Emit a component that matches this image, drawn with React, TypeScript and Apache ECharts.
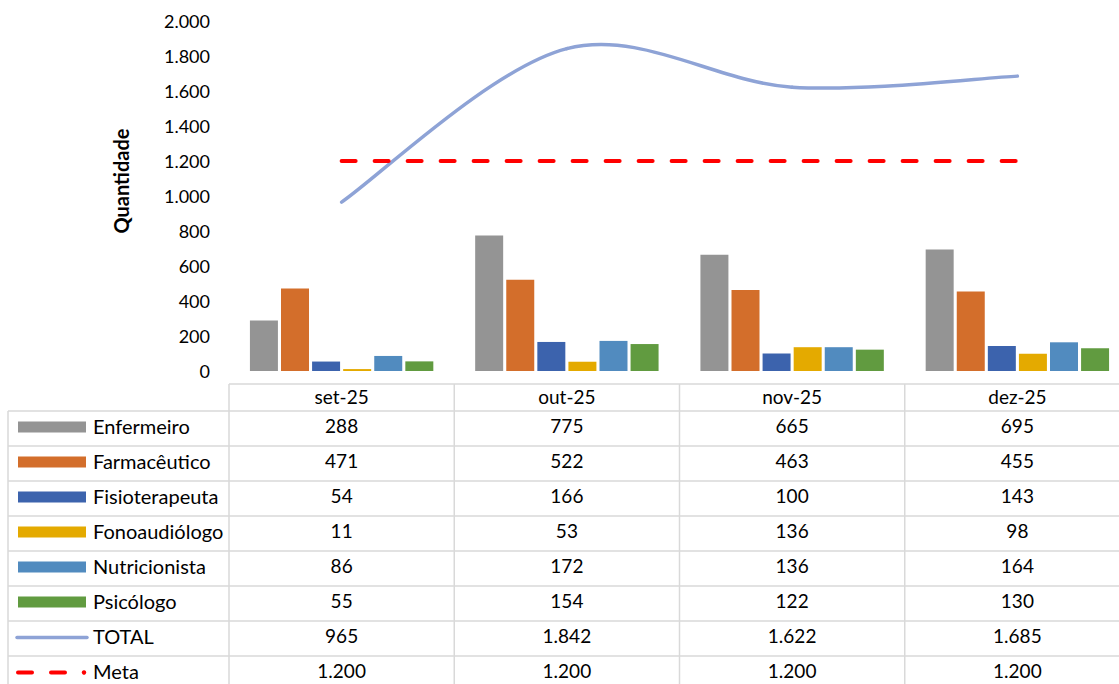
import React, { useEffect, useRef } from "react";
import * as echarts from "echarts";

const categories = ["set-25", "out-25", "nov-25", "dez-25"];
const enfermeiro = [288, 775, 665, 695];
const farmaceutico = [471, 522, 463, 455];
const fisioterapeuta = [54, 166, 100, 143];
const fonoaudiologo = [11, 53, 136, 98];
const nutricionista = [86, 172, 136, 164];
const psicologo = [55, 154, 122, 130];
const total = [965, 1842, 1622, 1685];
const meta = [1200, 1200, 1200, 1200];
const yTicks = { min: 0, max: 2000, interval: 200 };
const yAxisTitle = "Quantidade";

const barSeries = [
  { name: "Enfermeiro", data: enfermeiro, color: "#949494" },
  { name: "Farmacêutico", data: farmaceutico, color: "#D36E2B" },
  { name: "Fisioterapeuta", data: fisioterapeuta, color: "#3C63AD" },
  { name: "Fonoaudiólogo", data: fonoaudiologo, color: "#E4AA00" },
  { name: "Nutricionista", data: nutricionista, color: "#518BBF" },
  { name: "Psicólogo", data: psicologo, color: "#619B40" },
];
const totalColor = "#8EA3D6";
const metaColor = "#FF0000";

const fmt = (v: number) => String(v).replace(/\B(?=(\d{3})+(?!\d))/g, ".");

const FONT = "Lato, 'Noto Sans', sans-serif";

export default function App() {
  const ref = useRef<HTMLDivElement>(null);
  useEffect(() => {
    if (!ref.current) return;
    const chart = echarts.init(ref.current, undefined, { renderer: "svg" });

    const W = 1130;
    const H = 684;
    const GL = 229;
    const GW = W - GL;
    const band = GW / categories.length;
    const headerTop = 384;
    const rowTop = 411;
    const rowH = 35;
    const lineColor = "#D9D9D9";
    const textDy = -3;

    const rows = [
      ...barSeries.map((s) => ({ name: s.name, data: s.data, kind: "bar", color: s.color })),
      { name: "TOTAL", data: total, kind: "line", color: totalColor },
      { name: "Meta", data: meta, kind: "dash", color: metaColor },
    ];

    const graphic: any[] = [];
    graphic.push({
      type: "text",
      x: 121,
      y: 181,
      rotation: Math.PI / 2,
      style: {
        text: yAxisTitle,
        fill: "#000",
        font: `bold 20px ${FONT}`,
        align: "center",
        verticalAlign: "middle",
      },
    });
    graphic.push({
      type: "line",
      shape: { x1: GL, y1: headerTop, x2: GL + GW, y2: headerTop },
      style: { stroke: lineColor, lineWidth: 1.5 },
    });
    for (let i = 0; i <= rows.length; i++) {
      const y = rowTop + i * rowH;
      graphic.push({
        type: "line",
        shape: { x1: 8, y1: y, x2: GL + GW, y2: y },
        style: { stroke: lineColor, lineWidth: 1.5 },
      });
    }
    graphic.push({
      type: "line",
      shape: { x1: 8, y1: rowTop, x2: 8, y2: H + 10 },
      style: { stroke: lineColor, lineWidth: 1.5 },
    });
    for (let k = 0; k <= categories.length; k++) {
      const x = GL + k * band;
      graphic.push({
        type: "line",
        shape: { x1: x, y1: headerTop, x2: x, y2: H + 10 },
        style: { stroke: lineColor, lineWidth: 1.5 },
      });
    }
    rows.forEach((r, i) => {
      const cy = rowTop + i * rowH + rowH / 2;
      if (r.kind === "bar") {
        graphic.push({
          type: "rect",
          shape: { x: 18, y: cy - 7, width: 68, height: 11 },
          style: { fill: r.color },
        });
      } else if (r.kind === "line") {
        graphic.push({
          type: "line",
          shape: { x1: 17, y1: cy - 1, x2: 87, y2: cy - 1 },
          style: { stroke: r.color, lineWidth: 3.5, lineCap: "round" },
        });
      } else {
        graphic.push({
          type: "line",
          shape: { x1: 18, y1: cy - 1, x2: 32, y2: cy - 1 },
          style: { stroke: r.color, lineWidth: 4, lineCap: "round" },
        });
        graphic.push({
          type: "line",
          shape: { x1: 51, y1: cy - 1, x2: 65, y2: cy - 1 },
          style: { stroke: r.color, lineWidth: 4, lineCap: "round" },
        });
        graphic.push({
          type: "circle",
          shape: { cx: 84, cy: cy - 1, r: 2.2 },
          style: { fill: r.color },
        });
      }
      graphic.push({
        type: "text",
        x: 93,
        y: cy + textDy,
        style: {
          text: r.name,
          fill: "#000",
          font: `20px ${FONT}`,
          verticalAlign: "middle",
        },
      });
      r.data.forEach((v: number, j: number) => {
        graphic.push({
          type: "text",
          x: GL + band * (j + 0.5),
          y: cy + textDy,
          style: {
            text: fmt(v),
            fill: "#000",
            font: `19px ${FONT}`,
            align: "center",
            verticalAlign: "middle",
          },
        });
      });
    });

    const option: any = {
      animation: false,
      backgroundColor: "#fff",
      grid: { left: GL, right: 0, top: 21, bottom: H - 371, containLabel: false },
      xAxis: {
        type: "category",
        data: categories,
        axisLine: { show: false },
        axisTick: { show: false },
        axisLabel: {
          color: "#000",
          fontSize: 19,
          fontFamily: FONT,
          margin: 25,
          verticalAlign: "middle",
        },
      },
      yAxis: {
        type: "value",
        min: yTicks.min,
        max: yTicks.max,
        interval: yTicks.interval,
        splitLine: { show: false },
        axisLine: { show: false },
        axisTick: { show: false },
        axisLabel: {
          color: "#000",
          fontSize: 18,
          fontFamily: FONT,
          margin: 19,
          formatter: (v: number) => fmt(v),
        },
      },
      series: [
        ...barSeries.map((s) => ({
          name: s.name,
          type: "bar",
          data: s.data,
          barWidth: 28,
          barGap: "11%",
          itemStyle: { color: s.color },
        })),
        {
          name: "TOTAL",
          type: "custom",
          data: total.map((v, k) => [k, v]),
          encode: { x: 0, y: 1 },
          z: 5,
          renderItem: (params: any, api: any) => {
            const i = params.dataIndex;
            const n = total.length;
            if (i >= n - 1) return null;
            const p = total.map((v, k) => api.coord([k, v]));
            const P0 = p[Math.max(i - 1, 0)];
            const P1 = p[i];
            const P2 = p[i + 1];
            const P3 = p[Math.min(i + 2, n - 1)];
            return {
              type: "bezierCurve",
              shape: {
                x1: P1[0],
                y1: P1[1],
                cpx1: P1[0] + (P2[0] - P0[0]) / 6,
                cpy1: P1[1] + (P2[1] - P0[1]) / 6,
                cpx2: P2[0] - (P3[0] - P1[0]) / 6,
                cpy2: P2[1] - (P3[1] - P1[1]) / 6,
                x2: P2[0],
                y2: P2[1],
              },
              style: { fill: "none", stroke: totalColor, lineWidth: 3.5, lineCap: "round" },
            };
          },
        },
        {
          name: "Meta",
          type: "line",
          data: meta,
          symbol: "none",
          lineStyle: { color: metaColor, width: 4, type: [14, 19], cap: "round" },
          z: 5,
        },
      ],
      graphic,
    };
    chart.setOption(option);
    return () => chart.dispose();
  }, []);

  return (
    <div style={{ position: "fixed", left: 0, top: 0, width: 1119, height: 684, overflow: "hidden", background: "#fff" }}>
      <div ref={ref} style={{ width: 1130, height: 684 }} />
    </div>
  );
}
